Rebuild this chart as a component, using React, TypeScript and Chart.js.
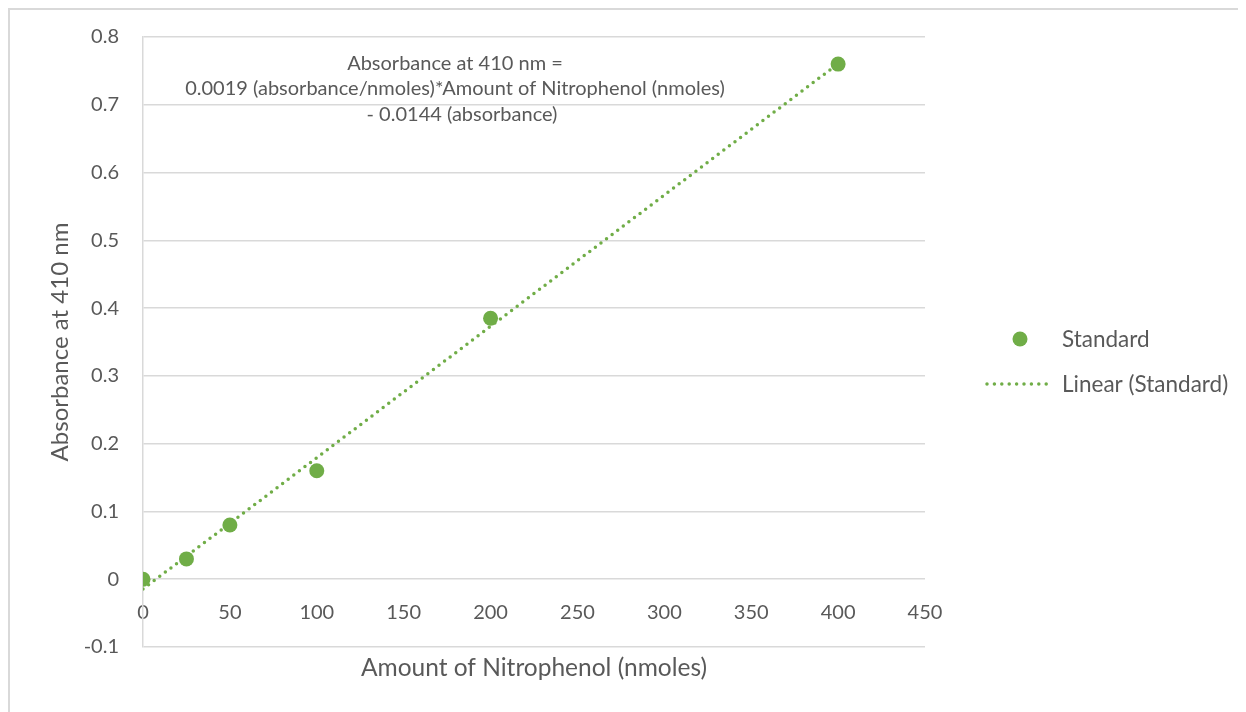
import React, { useEffect, useRef } from "react";
import { Chart, registerables } from "chart.js";

Chart.register(...registerables);

// Standard curve measurements
const amountNmoles = [0, 25, 50, 100, 200, 400];
const absorbance410 = [0, 0.03, 0.08, 0.16, 0.385, 0.76];

const xTickValues = [0, 50, 100, 150, 200, 250, 300, 350, 400, 450];
const yTickValues = [-0.1, 0, 0.1, 0.2, 0.3, 0.4, 0.5, 0.6, 0.7, 0.8];

const seriesLabel = "Standard";
const trendLabel = "Linear (Standard)";
const xTitle = "Amount of Nitrophenol (nmoles)";
const yTitle = "Absorbance at 410 nm";
const equationLines = [
  "Absorbance at 410 nm =",
  "0.0019 (absorbance/nmoles)*Amount of Nitrophenol (nmoles)",
  "- 0.0144 (absorbance)",
];

const GREEN = "#70ad47";
const TEXT = "#595959";
const GRID = "#d9d9d9";
const FONT = "Lato, 'Open Sans', sans-serif";

// Least-squares fit of the standard points
function linearFit(xs: number[], ys: number[]) {
  const n = xs.length;
  const mx = xs.reduce((a, b) => a + b, 0) / n;
  const my = ys.reduce((a, b) => a + b, 0) / n;
  let sxy = 0;
  let sxx = 0;
  for (let i = 0; i < n; i++) {
    sxy += (xs[i] - mx) * (ys[i] - my);
    sxx += (xs[i] - mx) * (xs[i] - mx);
  }
  const slope = sxy / sxx;
  return { slope, intercept: my - slope * mx };
}

const overlayPlugin = {
  id: "overlayText",
  afterDraw(chart: any) {
    const { ctx, chartArea } = chart;
    ctx.save();
    ctx.fillStyle = TEXT;
    ctx.textBaseline = "middle";

    // x-axis title
    ctx.font = `24.5px ${FONT}`;
    ctx.textAlign = "center";
    ctx.fillText(xTitle, (chartArea.left + chartArea.right) / 2, 658);

    // trendline equation
    ctx.font = `20px ${FONT}`;
    ctx.fillText(equationLines[0], 445, 54);
    ctx.fillText(equationLines[1], 445, 79);
    ctx.fillText(equationLines[2], 452, 105);

    // legend
    ctx.textAlign = "left";
    ctx.font = `22.5px ${FONT}`;
    ctx.fillStyle = GREEN;
    ctx.beginPath();
    ctx.arc(1010, 329, 7.5, 0, Math.PI * 2);
    ctx.fill();
    ctx.fillStyle = TEXT;
    ctx.fillText(seriesLabel, 1052, 330);

    ctx.strokeStyle = GREEN;
    ctx.lineWidth = 3.5;
    ctx.lineCap = "round";
    ctx.setLineDash([0, 7.4]);
    ctx.beginPath();
    ctx.moveTo(977, 374);
    ctx.lineTo(1039, 374);
    ctx.stroke();
    ctx.setLineDash([]);
    ctx.fillText(trendLabel, 1052, 375);
    ctx.restore();
  },
};

export default function App() {
  const canvasRef = useRef<HTMLCanvasElement | null>(null);

  useEffect(() => {
    if (!canvasRef.current) return;
    const fit = linearFit(amountNmoles, absorbance410);
    const xEnd = amountNmoles[amountNmoles.length - 1];
    const trend = [
      { x: 0, y: fit.intercept },
      { x: xEnd, y: fit.intercept + fit.slope * xEnd },
    ];

    const chart = new Chart(canvasRef.current, {
      type: "scatter",
      data: {
        datasets: [
          {
            label: trendLabel,
            type: "line",
            data: trend,
            borderColor: GREEN,
            borderWidth: 3.5,
            borderCapStyle: "round",
            borderDash: [0, 7],
            pointRadius: 0,
            fill: false,
            order: 2,
          } as any,
          {
            label: seriesLabel,
            data: amountNmoles.map((x, i) => ({ x, y: absorbance410[i] })),
            backgroundColor: GREEN,
            borderColor: GREEN,
            pointRadius: 7.5,
            pointBorderWidth: 0,
            order: 1,
          },
        ],
      },
      options: {
        animation: false,
        responsive: true,
        maintainAspectRatio: false,
        layout: { padding: { top: 27, bottom: 65, right: 321, left: 0 } },
        plugins: {
          legend: { display: false },
          tooltip: { enabled: false },
        },
        scales: {
          x: {
            type: "linear",
            position: { y: 0 } as any,
            min: 0,
            max: 450,
            afterBuildTicks: (s: any) => {
              s.ticks = xTickValues.map((v) => ({ value: v }));
            },
            grid: { display: false, drawTicks: false },
            border: { display: false },
            ticks: {
              color: TEXT,
              font: { family: FONT, size: 20 },
              padding: 21,
              maxRotation: 0,
              callback: (v: any) => String(v),
            },
          },
          y: {
            type: "linear",
            position: "left",
            min: -0.1,
            max: 0.8,
            afterBuildTicks: (s: any) => {
              s.ticks = yTickValues.map((v) => ({ value: v }));
            },
            afterFit: (s: any) => {
              s.width = 133;
              s.paddingTop = 0;
              s.paddingBottom = 0;
            },
            grid: { color: GRID, lineWidth: 1.5, drawTicks: false },
            border: { display: true, color: GRID, width: 1.5 },
            ticks: {
              color: TEXT,
              font: { family: FONT, size: 20 },
              padding: 24,
              callback: (v: any) => String(v),
            },
            title: {
              display: true,
              text: yTitle,
              color: TEXT,
              font: { family: FONT, size: 24 },
              padding: { top: 36, bottom: 0 },
            },
          },
        },
      },
      plugins: [overlayPlugin],
    });
    return () => chart.destroy();
  }, []);

  return (
    <div
      style={{
        width: 1238,
        height: 704,
        boxSizing: "border-box",
        borderTop: `2px solid ${GRID}`,
        borderLeft: `2px solid ${GRID}`,
        background: "#fff",
        position: "relative",
      }}
    >
      <canvas ref={canvasRef} />
    </div>
  );
}
